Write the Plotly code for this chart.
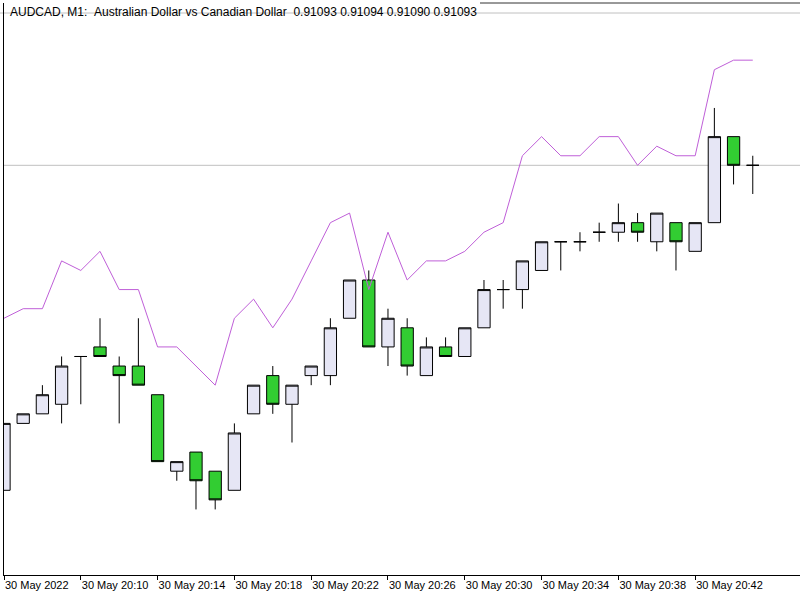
import plotly.graph_objects as go

# --- data (AUDCAD M1, 30 May 2022 20:06 .. 20:45) ---
opens = [0.91059, 0.91066, 0.91067, 0.91068, 0.91073, 0.91074, 0.91072, 0.91072, 0.91069, 0.91061,
         0.91063, 0.91061, 0.91059, 0.91067, 0.91071, 0.91068, 0.91071, 0.91071, 0.91077, 0.91081,
         0.91074, 0.91076, 0.91071, 0.91074, 0.91073, 0.91076, 0.91080, 0.91080, 0.91082, 0.91085,
         0.91085, 0.91086, 0.91086, 0.91087, 0.91085, 0.91087, 0.91084, 0.91087, 0.91096, 0.91093]
highs = [0.91066, 0.91067, 0.91070, 0.91073, 0.91073, 0.91077, 0.91073, 0.91077, 0.91069, 0.91062,
         0.91063, 0.91061, 0.91066, 0.91070, 0.91072, 0.91070, 0.91072, 0.91077, 0.91081, 0.91082,
         0.91078, 0.91077, 0.91075, 0.91075, 0.91076, 0.91081, 0.91081, 0.91083, 0.91085, 0.91085,
         0.91086, 0.91087, 0.91089, 0.91088, 0.91088, 0.91087, 0.91087, 0.91099, 0.91096, 0.91094]
lows = [0.91059, 0.91066, 0.91067, 0.91066, 0.91068, 0.91073, 0.91066, 0.91070, 0.91062, 0.91060,
        0.91057, 0.91057, 0.91059, 0.91067, 0.91067, 0.91064, 0.91070, 0.91070, 0.91077, 0.91074,
        0.91072, 0.91071, 0.91071, 0.91073, 0.91073, 0.91076, 0.91078, 0.91078, 0.91082, 0.91082,
        0.91084, 0.91085, 0.91085, 0.91085, 0.91084, 0.91082, 0.91084, 0.91087, 0.91091, 0.91090]
closes = [0.91066, 0.91067, 0.91069, 0.91072, 0.91073, 0.91073, 0.91071, 0.91070, 0.91062, 0.91062,
          0.91060, 0.91058, 0.91065, 0.91070, 0.91068, 0.91070, 0.91072, 0.91076, 0.91081, 0.91074,
          0.91077, 0.91072, 0.91074, 0.91073, 0.91076, 0.91080, 0.91080, 0.91083, 0.91085, 0.91085,
          0.91085, 0.91086, 0.91087, 0.91086, 0.91088, 0.91085, 0.91087, 0.91096, 0.91093, 0.91093]
indicator = [0.91077, 0.91078, 0.91078, 0.91083, 0.91082, 0.91084, 0.91080, 0.91080, 0.91074, 0.91074,
             0.91072, 0.91070, 0.91077, 0.91079, 0.91076, 0.91079, 0.91083, 0.91087, 0.91088, 0.91080,
             0.91086, 0.91081, 0.91083, 0.91083, 0.91084, 0.91086, 0.91087, 0.91094, 0.91096, 0.91094,
             0.91094, 0.91096, 0.91096, 0.91093, 0.91095, 0.91094, 0.91094, 0.91103, 0.91104, 0.91104]
bar_index = list(range(len(opens)))
tick_index = [0, 4, 8, 12, 16, 20, 24, 28, 32, 36]
tick_labels = ["30 May 2022", "30 May 20:10", "30 May 20:14", "30 May 20:18", "30 May 20:22",
               "30 May 20:26", "30 May 20:30", "30 May 20:34", "30 May 20:38", "30 May 20:42"]
bid_price = 0.91093
title_text = ("AUDCAD, M1:\u00a0\u00a0Australian Dollar vs Canadian Dollar\u00a0\u00a0"
              "0.91093 0.91094 0.91090 0.91093")

FONT = "Liberation Sans, Arial, sans-serif"

fig = go.Figure()
fig.add_trace(go.Candlestick(
    x=bar_index, open=opens, high=highs, low=lows, close=closes,
    increasing=dict(fillcolor="#E6E6F5", line=dict(color="#000000", width=1)),
    decreasing=dict(fillcolor="#32CD32", line=dict(color="#000000", width=1)),
    whiskerwidth=0, showlegend=False, hoverinfo="skip",
))
fig.add_trace(go.Scatter(
    x=bar_index, y=indicator, mode="lines",
    line=dict(color="#BF5FD8", width=1), showlegend=False, hoverinfo="skip",
))

# bid line
fig.add_shape(type="line", xref="paper", x0=0, x1=1, yref="y", y0=bid_price, y1=bid_price,
              line=dict(color="#C0C0C0", width=1), layer="below")
# upper gray line
fig.add_shape(type="line", xref="paper", x0=-0.01, x1=1, yref="paper", y0=(575 - 13) / 572, y1=(575 - 13) / 572,
              line=dict(color="#C0C0C0", width=1), layer="below")
# top border segment right of title
fig.add_shape(type="line", xref="paper", x0=(480 - 4) / 796, x1=1, yref="paper", y0=1, y1=1,
              line=dict(color="#333333", width=1))

fig.add_annotation(text=title_text, xref="paper", yref="paper",
                   x=(8 - 4) / 796, y=(575 - 12) / 572, xanchor="left", yanchor="middle",
                   showarrow=False, font=dict(family=FONT, size=12, color="#000000"))

fig.update_layout(
    width=800, height=600,
    margin=dict(l=4, r=0, t=3, b=25),
    paper_bgcolor="white", plot_bgcolor="white",
    boxgap=0.36, boxgroupgap=0.0,
    font=dict(family=FONT, size=11, color="#000000"),
    xaxis=dict(
        range=[0, 41.46], rangeslider=dict(visible=False),
        tickmode="array", tickvals=tick_index, ticktext=tick_labels,
        ticks="outside", ticklen=4, tickcolor="#000000", tickwidth=1,
        ticklabelposition="outside right",
        showgrid=False, zeroline=False,
        showline=True, linecolor="#000000", linewidth=1,
        tickfont=dict(family=FONT, size=11, color="#000000"),
    ),
    yaxis=dict(
        range=[0.9105014, 0.9110998],
        showticklabels=False, ticks="", showgrid=False, zeroline=False,
        showline=True, linecolor="#000000", linewidth=1,
    ),
)

fig.write_html("out.html")
